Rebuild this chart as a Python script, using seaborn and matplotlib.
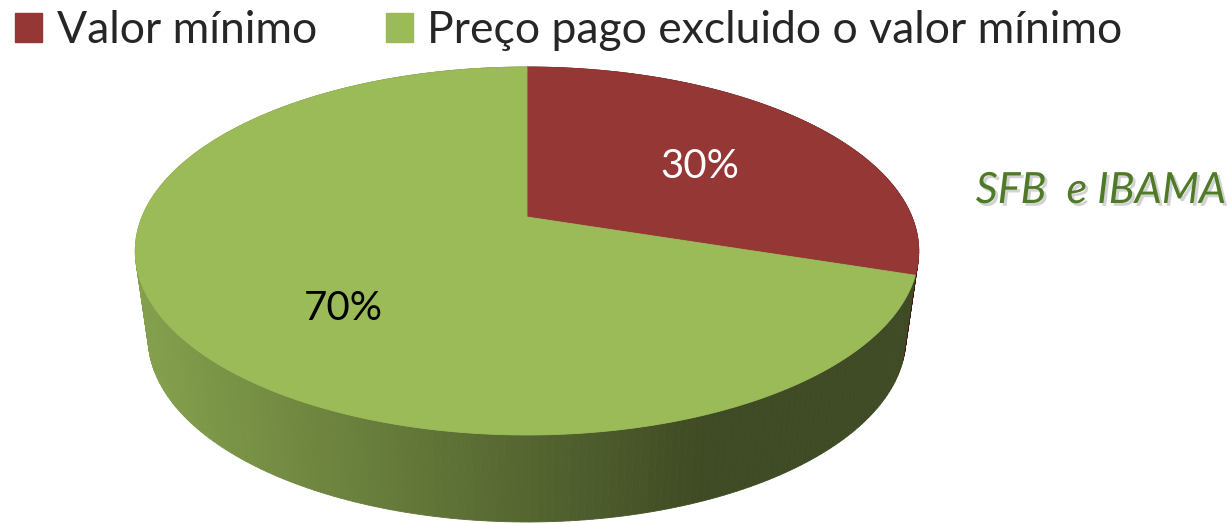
import numpy as np
import matplotlib
matplotlib.use("Agg")
import matplotlib.pyplot as plt
import matplotlib.patheffects as pe
from matplotlib.patches import Polygon, Patch
from matplotlib.colors import to_rgb
import seaborn as sns

# chart data
categories = ["Valor mínimo", "Preço pago excluido o valor mínimo"]
values = [30, 70]
pct_labels = ["30%", "70%"]
top_colors = ["#953735", "#9bbb59"]
side_colors = [("#5a1f1e", "#3e1514"), ("#84a04c", "#3f4b24")]
label_colors = ["white", "black"]
label_pos = [(700, 166), (343, 308)]
source = "SFB  e IBAMA"

sns.set_theme(style="white")
plt.rcParams["font.family"] = ["Lato", "DejaVu Sans"]

# 3d pie geometry (pixel space, perspective tilt)
CX, CY = 527, 217
S, Q, R = 385, -137.6, 0.1848
DEPTH, SHRINK = 87, 0.967


def top_pt(phi, f=1.0):
    u, v = f * np.cos(phi), f * np.sin(phi)
    w = 1 + R * v
    return CX + S * u / w, (CY + Q * v) / w


def bottom_pt(phi):
    x, y = top_pt(phi)
    return CX + (x - CX) * SHRINK, y + DEPTH


def side_color(x, light, dark):
    t = np.clip((x - 148) / (700 - 148), 0, 1)
    return (1 - t) * np.array(to_rgb(light)) + t * np.array(to_rgb(dark))


fig = plt.figure(figsize=(12.32, 5.23), dpi=100)
ax = fig.add_axes([0, 0, 1, 1])
ax.set_xlim(0, 1232)
ax.set_ylim(523, 0)
ax.axis("off")

fracs = np.array(values) / sum(values)
starts = np.pi / 2 - 2 * np.pi * np.concatenate([[0], np.cumsum(fracs)[:-1]])
ends = starts - 2 * np.pi * fracs

# side walls, painted back to front
quads = []
for i, (a, b) in enumerate(zip(starts, ends)):
    phis = np.linspace(a, b, int(abs(b - a) / np.radians(1)) + 2)
    for p0, p1 in zip(phis[:-1], phis[1:]):
        pts = [top_pt(p0), top_pt(p1), bottom_pt(p1), bottom_pt(p0)]
        xm = np.mean([p[0] for p in pts])
        quads.append((np.sin((p0 + p1) / 2), pts, side_color(xm, *side_colors[i])))
quads.sort(key=lambda q: -q[0])
for _, pts, c in quads:
    ax.add_patch(Polygon(pts, closed=True, fc=c, ec=c, lw=0.6))

# top faces
for i, (a, b) in enumerate(zip(starts, ends)):
    phis = np.linspace(a, b, 300)
    pts = [top_pt(0, 0)] + [top_pt(p) for p in phis]
    ax.add_patch(Polygon(pts, closed=True, fc=top_colors[i], ec=top_colors[i], lw=0.6))

for txt, (x, y), c in zip(pct_labels, label_pos, label_colors):
    ax.text(x, y, txt, ha="center", va="center", fontsize=29, color=c)

handles = [Patch(fc=c, ec=c, label=l) for c, l in zip(top_colors, categories)]
ax.legend(handles=handles, loc="upper left", bbox_to_anchor=(0.007, 0.993), ncol=2,
          frameon=False, fontsize=32, handlelength=0.61, handleheight=0.61,
          handletextpad=0.32, columnspacing=1.55, borderaxespad=0, borderpad=0.15)

ax.text(1226, 191, source, ha="right", va="center", fontsize=31, style="italic",
        color="#4f7a28",
        path_effects=[pe.withSimplePatchShadow(offset=(2, -2), shadow_rgbFace="gray", alpha=0.35)])

fig.savefig("out.png", dpi=100)
